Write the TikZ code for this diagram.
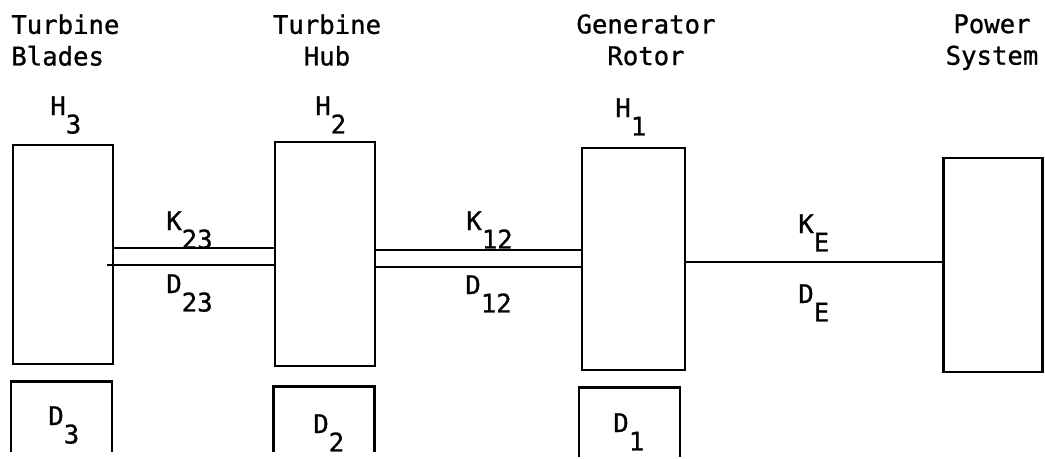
\documentclass[tikz,border=0pt]{standalone}
\usepackage{fontspec}
\setmainfont{DejaVu Sans Mono}[FakeBold=0.9]
\usepackage{tikz}
\newcommand{\lowsub}[1]{\raisebox{-0.72em}{#1}}

\begin{document}
\begin{tikzpicture}[x=0.02cm, y=-0.02cm,
  mass/.style={draw, line width=1.4pt, minimum width=2cm, inner sep=0pt},
  damp/.style={minimum width=2cm, inner sep=0pt},
  shaft/.style={line width=1.4pt},
  lab/.style={anchor=base west, inner sep=0pt, font=\fontsize{14.6}{18}\selectfont},
  head/.style={anchor=north, inner sep=0pt, align=center, font=\fontsize{14.6}{18}\selectfont}]
  \useasboundingbox (0,0) rectangle (1045,458);
  % inertias
  \node[mass, minimum height=4.38cm] (h3) at (63,254.5)   {};
  \node[mass, minimum height=4.48cm] (h2) at (325,254)    {};
  \node[mass, minimum height=4.44cm, minimum width=2.06cm] (h1) at (633.5,259) {};
  \node[mass, minimum height=4.28cm, minimum width=1.98cm] (ps) at (993,265) {};
  % self damping, open at the bottom
  \node[damp, minimum height=1.4cm]  (d3) at (61.5,417)   {};
  \node[damp, minimum height=1.3cm]  (d2) at (324,419.5)  {};
  \node[damp, minimum height=1.38cm] (d1) at (629.5,422.5) {};
  \foreach \d in {d3,d2,d1}
    \draw[shaft] (\d.south west) |- (\d.north) -| (\d.south east);
  % shafts
  \draw[shaft] (h3.east |- 0,248) -- (h2.west |- 0,248);
  \draw[shaft] ([xshift=-4]h3.east |- 0,265) -- (h2.west |- 0,265);
  \draw[shaft] (h2.east |- 0,250) -- (h1.west |- 0,250);
  \draw[shaft] (h2.east |- 0,267) -- (h1.west |- 0,267);
  \draw[shaft] (h1.east |- 0,262) -- (ps.west |- 0,262);
  % headings
  \node[head, anchor=north west, align=left] (tb) at (11,14) {Turbine\\Blades};
  \node[head] (th) at (327,14)  {Turbine\\Hub};
  \node[head] (gr) at (646,14)  {Generator\\Rotor};
  \node[head] (ps-name) at (992,14) {Power\\System};
  % labels
  \node[lab] (lh3)  at (50,115)  {H\lowsub{3}};
  \node[lab] (lh2)  at (315,115) {H\lowsub{2}};
  \node[lab] (lh1)  at (615,117) {H\lowsub{1}};
  \node[lab] (lk23) at (166,230) {K\lowsub{23}};
  \node[lab] (ld23) at (166,293) {D\lowsub{23}};
  \node[lab] (lk12) at (466,230) {K\lowsub{12}};
  \node[lab] (ld12) at (465,294) {D\lowsub{12}};
  \node[lab] (lke)  at (798,233) {K\lowsub{E}};
  \node[lab] (lde)  at (798,303) {D\lowsub{E}};
  \node[lab] (ld3)  at (48,425)  {D\lowsub{3}};
  \node[lab] (ld2)  at (313,433) {D\lowsub{2}};
  \node[lab] (ld1)  at (613,432) {D\lowsub{1}};
\end{tikzpicture}
\end{document}
